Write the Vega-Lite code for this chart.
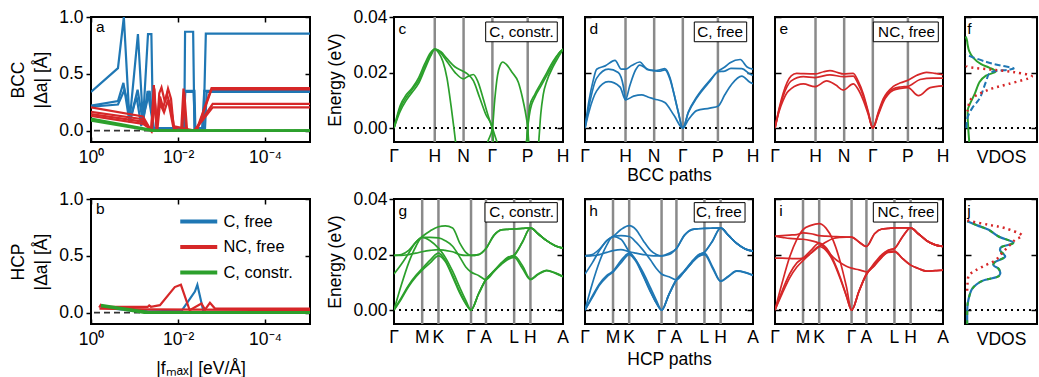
{
"$schema":"https://vega.github.io/schema/vega-lite/v6.json",
"background":"white",
"padding":{"left":8,"top":7,"right":0,"bottom":0},
"bounds":"flush",
"columns":6,
"spacing":{"row":57,"column":22},
"resolve":{"scale":{"color":"independent"}},
"config":{
 "font":"Liberation Sans",
 "view":{"stroke":"black","strokeWidth":2},
 "axis":{"grid":false,"domain":false,"labelFont":"Liberation Sans","titleFont":"Liberation Sans","labelFontSize":17.5,"titleFontSize":17.5,"labelColor":"black","titleColor":"black","tickColor":"black","tickWidth":1.5,"titleFontWeight":"normal","labelFlush":false,"labelOverlap":false},
 "text":{"font":"Liberation Sans","color":"black"}
},
"datasets":{
"bcc":[{"k":0,"n":"Γ"},{"k":1,"n":"H"},{"k":1.707,"n":"N"},{"k":2.414,"n":"Γ"},{"k":3.28,"n":"P"},{"k":4.146,"n":"H"}],
"hcp":[{"k":0,"n":"Γ"},{"k":0.577,"n":"M"},{"k":0.91,"n":"K"},{"k":1.577,"n":"Γ"},{"k":1.883,"n":"A"},{"k":2.46,"n":"L"},{"k":2.793,"n":"H"},{"k":3.46,"n":"A"}],
"conv":[
{"p":"a","s":"C, free","l":"b1","f":1,"d":0.34},{"p":"a","s":"C, free","l":"b1","f":0.24,"d":0.55},{"p":"a","s":"C, free","l":"b1","f":0.176,"d":1.0},{"p":"a","s":"C, free","l":"b1","f":0.13,"d":0.08},{"p":"a","s":"C, free","l":"b1","f":0.0835,"d":0.85},{"p":"a","s":"C, free","l":"b1","f":0.064,"d":0.08},{"p":"a","s":"C, free","l":"b1","f":0.049,"d":0.85},{"p":"a","s":"C, free","l":"b1","f":0.041,"d":0.85},{"p":"a","s":"C, free","l":"b1","f":0.0376,"d":0.02},{"p":"a","s":"C, free","l":"b1","f":0.0072,"d":0.02},{"p":"a","s":"C, free","l":"b1","f":0.0069,"d":0.87},{"p":"a","s":"C, free","l":"b1","f":0.0045,"d":0.87},{"p":"a","s":"C, free","l":"b1","f":0.0042,"d":0.02},{"p":"a","s":"C, free","l":"b1","f":0.0026,"d":0.02},{"p":"a","s":"C, free","l":"b1","f":0.0023,"d":0.853},{"p":"a","s":"C, free","l":"b1","f":0.0000093,"d":0.853},
{"p":"a","s":"C, free","l":"b2","f":1,"d":0.22},{"p":"a","s":"C, free","l":"b2","f":0.24,"d":0.26},{"p":"a","s":"C, free","l":"b2","f":0.18,"d":0.42},{"p":"a","s":"C, free","l":"b2","f":0.13,"d":0.07},{"p":"a","s":"C, free","l":"b2","f":0.085,"d":0.36},{"p":"a","s":"C, free","l":"b2","f":0.064,"d":0.07},{"p":"a","s":"C, free","l":"b2","f":0.05,"d":0.35},{"p":"a","s":"C, free","l":"b2","f":0.04,"d":0.12},{"p":"a","s":"C, free","l":"b2","f":0.037,"d":0.02},{"p":"a","s":"C, free","l":"b2","f":0.0075,"d":0.02},{"p":"a","s":"C, free","l":"b2","f":0.007,"d":0.35},{"p":"a","s":"C, free","l":"b2","f":0.0042,"d":0.35},{"p":"a","s":"C, free","l":"b2","f":0.004,"d":0.02},{"p":"a","s":"C, free","l":"b2","f":0.0028,"d":0.02},{"p":"a","s":"C, free","l":"b2","f":0.0025,"d":0.35},{"p":"a","s":"C, free","l":"b2","f":0.0000093,"d":0.35},
{"p":"a","s":"C, free","l":"b3","f":1,"d":0.21},{"p":"a","s":"C, free","l":"b3","f":0.24,"d":0.23},{"p":"a","s":"C, free","l":"b3","f":0.17,"d":0.36},{"p":"a","s":"C, free","l":"b3","f":0.12,"d":0.12},{"p":"a","s":"C, free","l":"b3","f":0.09,"d":0.3},{"p":"a","s":"C, free","l":"b3","f":0.07,"d":0.04},{"p":"a","s":"C, free","l":"b3","f":0.045,"d":0.35},{"p":"a","s":"C, free","l":"b3","f":0.036,"d":0.02},{"p":"a","s":"C, free","l":"b3","f":0.0075,"d":0.02},{"p":"a","s":"C, free","l":"b3","f":0.0068,"d":0.34},{"p":"a","s":"C, free","l":"b3","f":0.0044,"d":0.34},{"p":"a","s":"C, free","l":"b3","f":0.0041,"d":0.02},{"p":"a","s":"C, free","l":"b3","f":0.0024,"d":0.02},{"p":"a","s":"C, free","l":"b3","f":0.0022,"d":0.34},{"p":"a","s":"C, free","l":"b3","f":0.0000093,"d":0.34},
{"p":"a","s":"NC, free","l":"r1","f":1,"d":0.205},{"p":"a","s":"NC, free","l":"r1","f":0.064,"d":0.125},{"p":"a","s":"NC, free","l":"r1","f":0.046,"d":0.03},{"p":"a","s":"NC, free","l":"r1","f":0.041,"d":0},{"p":"a","s":"NC, free","l":"r1","f":0.036,"d":0.4},{"p":"a","s":"NC, free","l":"r1","f":0.031,"d":0},{"p":"a","s":"NC, free","l":"r1","f":0.027,"d":0.33},{"p":"a","s":"NC, free","l":"r1","f":0.024,"d":0.38},{"p":"a","s":"NC, free","l":"r1","f":0.02,"d":0.25},{"p":"a","s":"NC, free","l":"r1","f":0.017,"d":0.37},{"p":"a","s":"NC, free","l":"r1","f":0.0145,"d":0.28},{"p":"a","s":"NC, free","l":"r1","f":0.0125,"d":0.02},{"p":"a","s":"NC, free","l":"r1","f":0.0085,"d":0},{"p":"a","s":"NC, free","l":"r1","f":0.0075,"d":0.37},{"p":"a","s":"NC, free","l":"r1","f":0.0065,"d":0},{"p":"a","s":"NC, free","l":"r1","f":0.0038,"d":0},{"p":"a","s":"NC, free","l":"r1","f":0.0017,"d":0.375},{"p":"a","s":"NC, free","l":"r1","f":0.0000093,"d":0.375},
{"p":"a","s":"NC, free","l":"r2","f":1,"d":0.165},{"p":"a","s":"NC, free","l":"r2","f":0.064,"d":0.1},{"p":"a","s":"NC, free","l":"r2","f":0.042,"d":0},{"p":"a","s":"NC, free","l":"r2","f":0.035,"d":0.37},{"p":"a","s":"NC, free","l":"r2","f":0.031,"d":0.02},{"p":"a","s":"NC, free","l":"r2","f":0.026,"d":0.3},{"p":"a","s":"NC, free","l":"r2","f":0.022,"d":0.2},{"p":"a","s":"NC, free","l":"r2","f":0.018,"d":0.32},{"p":"a","s":"NC, free","l":"r2","f":0.0145,"d":0.2},{"p":"a","s":"NC, free","l":"r2","f":0.012,"d":0},{"p":"a","s":"NC, free","l":"r2","f":0.008,"d":0},{"p":"a","s":"NC, free","l":"r2","f":0.0072,"d":0.34},{"p":"a","s":"NC, free","l":"r2","f":0.0062,"d":0},{"p":"a","s":"NC, free","l":"r2","f":0.0037,"d":0},{"p":"a","s":"NC, free","l":"r2","f":0.0017,"d":0.362},{"p":"a","s":"NC, free","l":"r2","f":0.0000093,"d":0.362},
{"p":"a","s":"NC, free","l":"r3","f":1,"d":0.145},{"p":"a","s":"NC, free","l":"r3","f":0.064,"d":0.08},{"p":"a","s":"NC, free","l":"r3","f":0.04,"d":0},{"p":"a","s":"NC, free","l":"r3","f":0.034,"d":0.25},{"p":"a","s":"NC, free","l":"r3","f":0.03,"d":0},{"p":"a","s":"NC, free","l":"r3","f":0.026,"d":0.24},{"p":"a","s":"NC, free","l":"r3","f":0.021,"d":0.16},{"p":"a","s":"NC, free","l":"r3","f":0.017,"d":0.27},{"p":"a","s":"NC, free","l":"r3","f":0.013,"d":0.04},{"p":"a","s":"NC, free","l":"r3","f":0.0042,"d":0},{"p":"a","s":"NC, free","l":"r3","f":0.0016,"d":0.235},{"p":"a","s":"NC, free","l":"r3","f":0.0000093,"d":0.235},
{"p":"a","s":"NC, free","l":"r4","f":1,"d":0.13},{"p":"a","s":"NC, free","l":"r4","f":0.064,"d":0.06},{"p":"a","s":"NC, free","l":"r4","f":0.038,"d":0},{"p":"a","s":"NC, free","l":"r4","f":0.0042,"d":0},{"p":"a","s":"NC, free","l":"r4","f":0.0016,"d":0.205},{"p":"a","s":"NC, free","l":"r4","f":0.0000093,"d":0.205},
{"p":"a","s":"C, constr.","l":"g1","f":1,"d":0.105},{"p":"a","s":"C, constr.","l":"g1","f":0.035,"d":0},{"p":"a","s":"C, constr.","l":"g1","f":0.0000093,"d":0},
{"p":"a","s":"C, constr.","l":"g2","f":1,"d":0.09},{"p":"a","s":"C, constr.","l":"g2","f":0.04,"d":0},{"p":"a","s":"C, constr.","l":"g2","f":0.0000093,"d":0},
{"p":"b","s":"C, free","l":"c1","f":0.6,"d":0.05},{"p":"b","s":"C, free","l":"c1","f":0.05,"d":0.012},{"p":"b","s":"C, free","l":"c1","f":0.0083,"d":0.015},{"p":"b","s":"C, free","l":"c1","f":0.0041,"d":0.185},{"p":"b","s":"C, free","l":"c1","f":0.0036,"d":0.245},{"p":"b","s":"C, free","l":"c1","f":0.0026,"d":0.006},{"p":"b","s":"C, free","l":"c1","f":0.0000093,"d":0.008},
{"p":"b","s":"C, free","l":"c2","f":0.6,"d":0.045},{"p":"b","s":"C, free","l":"c2","f":0.05,"d":0.005},{"p":"b","s":"C, free","l":"c2","f":0.0000093,"d":0.005},
{"p":"b","s":"NC, free","l":"n1","f":0.65,"d":0.045},{"p":"b","s":"NC, free","l":"n1","f":0.6,"d":0.066},{"p":"b","s":"NC, free","l":"n1","f":0.55,"d":0.05},{"p":"b","s":"NC, free","l":"n1","f":0.05,"d":0.05},{"p":"b","s":"NC, free","l":"n1","f":0.046,"d":0.064},{"p":"b","s":"NC, free","l":"n1","f":0.042,"d":0.052},{"p":"b","s":"NC, free","l":"n1","f":0.026,"d":0.066},{"p":"b","s":"NC, free","l":"n1","f":0.0119,"d":0.225},{"p":"b","s":"NC, free","l":"n1","f":0.0086,"d":0.245},{"p":"b","s":"NC, free","l":"n1","f":0.0054,"d":0.021},{"p":"b","s":"NC, free","l":"n1","f":0.0029,"d":0.081},{"p":"b","s":"NC, free","l":"n1","f":0.0024,"d":0.027},{"p":"b","s":"NC, free","l":"n1","f":0.00185,"d":0.087},{"p":"b","s":"NC, free","l":"n1","f":0.00142,"d":0.036},{"p":"b","s":"NC, free","l":"n1","f":0.0000093,"d":0.036},
{"p":"b","s":"NC, free","l":"n2","f":0.64,"d":0.035},{"p":"b","s":"NC, free","l":"n2","f":0.05,"d":0.028},{"p":"b","s":"NC, free","l":"n2","f":0.0000093,"d":0.022},
{"p":"b","s":"C, constr.","l":"s1","f":0.59,"d":0.066},{"p":"b","s":"C, constr.","l":"s1","f":0.3,"d":0.05},{"p":"b","s":"C, constr.","l":"s1","f":0.05,"d":0.006},{"p":"b","s":"C, constr.","l":"s1","f":0.0000093,"d":0.003},
{"p":"b","s":"C, constr.","l":"s2","f":0.59,"d":0.058},{"p":"b","s":"C, constr.","l":"s2","f":0.06,"d":0},{"p":"b","s":"C, constr.","l":"s2","f":0.0000093,"d":0}
],
"disp":[
{"p":"c","b":1,"k":0,"E":0},{"p":"c","b":1,"k":0.15,"E":0.006},{"p":"c","b":1,"k":0.3,"E":0.01},{"p":"c","b":1,"k":0.45,"E":0.013},{"p":"c","b":1,"k":0.6,"E":0.016},{"p":"c","b":1,"k":0.75,"E":0.021},{"p":"c","b":1,"k":0.9,"E":0.026},{"p":"c","b":1,"k":1,"E":0.0284},{"p":"c","b":1,"k":1.1,"E":0.027},{"p":"c","b":1,"k":1.2,"E":0.024},{"p":"c","b":1,"k":1.3,"E":0.018},{"p":"c","b":1,"k":1.4,"E":0.008},{"p":"c","b":1,"k":1.47,"E":0},{"p":"c","b":1,"k":1.52,"E":-0.006},{"p":"c","b":1,"k":1.6,"E":-0.012},{"p":"c","b":1,"k":2.2,"E":-0.012},{"p":"c","b":1,"k":2.3,"E":-0.005},{"p":"c","b":1,"k":2.414,"E":0},{"p":"c","b":1,"k":2.47,"E":0.01},{"p":"c","b":1,"k":2.54,"E":0.019},{"p":"c","b":1,"k":2.6,"E":0.0225},{"p":"c","b":1,"k":2.67,"E":0.0238},{"p":"c","b":1,"k":2.75,"E":0.023},{"p":"c","b":1,"k":2.9,"E":0.02},{"p":"c","b":1,"k":3.05,"E":0.0165},{"p":"c","b":1,"k":3.15,"E":0.011},{"p":"c","b":1,"k":3.22,"E":0.006},{"p":"c","b":1,"k":3.28,"E":0},{"p":"c","b":1,"k":3.31,"E":-0.006},{"p":"c","b":1,"k":3.35,"E":-0.012},{"p":"c","b":1,"k":3.5,"E":-0.012},{"p":"c","b":1,"k":3.55,"E":-0.005},{"p":"c","b":1,"k":3.6,"E":0.005},{"p":"c","b":1,"k":3.66,"E":0.012},{"p":"c","b":1,"k":3.75,"E":0.017},{"p":"c","b":1,"k":3.9,"E":0.022},{"p":"c","b":1,"k":4.05,"E":0.026},{"p":"c","b":1,"k":4.146,"E":0.0284},
{"p":"c","b":2,"k":0,"E":0},{"p":"c","b":2,"k":0.15,"E":0.008},{"p":"c","b":2,"k":0.3,"E":0.012},{"p":"c","b":2,"k":0.45,"E":0.0145},{"p":"c","b":2,"k":0.6,"E":0.018},{"p":"c","b":2,"k":0.75,"E":0.023},{"p":"c","b":2,"k":0.9,"E":0.0272},{"p":"c","b":2,"k":1,"E":0.0284},{"p":"c","b":2,"k":1.15,"E":0.027},{"p":"c","b":2,"k":1.3,"E":0.024},{"p":"c","b":2,"k":1.5,"E":0.02},{"p":"c","b":2,"k":1.707,"E":0.0177},{"p":"c","b":2,"k":1.8,"E":0.0185},{"p":"c","b":2,"k":1.946,"E":0.0193},{"p":"c","b":2,"k":2.05,"E":0.017},{"p":"c","b":2,"k":2.2,"E":0.01},{"p":"c","b":2,"k":2.32,"E":0.004},{"p":"c","b":2,"k":2.414,"E":0},{"p":"c","b":2,"k":2.55,"E":-0.006},{"p":"c","b":2,"k":2.7,"E":-0.012},{"p":"c","b":2,"k":3.2,"E":-0.012},{"p":"c","b":2,"k":3.26,"E":-0.004},{"p":"c","b":2,"k":3.28,"E":0},{"p":"c","b":2,"k":3.35,"E":0.007},{"p":"c","b":2,"k":3.45,"E":0.011},{"p":"c","b":2,"k":3.6,"E":0.015},{"p":"c","b":2,"k":3.75,"E":0.019},{"p":"c","b":2,"k":3.9,"E":0.023},{"p":"c","b":2,"k":4.05,"E":0.027},{"p":"c","b":2,"k":4.146,"E":0.0284},
{"p":"c","b":3,"k":0,"E":0},{"p":"c","b":3,"k":0.15,"E":0.007},{"p":"c","b":3,"k":0.3,"E":0.011},{"p":"c","b":3,"k":0.45,"E":0.014},{"p":"c","b":3,"k":0.6,"E":0.017},{"p":"c","b":3,"k":0.75,"E":0.022},{"p":"c","b":3,"k":0.9,"E":0.0265},{"p":"c","b":3,"k":1,"E":0.0284},{"p":"c","b":3,"k":1.15,"E":0.0275},{"p":"c","b":3,"k":1.3,"E":0.025},{"p":"c","b":3,"k":1.5,"E":0.022},{"p":"c","b":3,"k":1.707,"E":0.0204},{"p":"c","b":3,"k":1.8,"E":0.0195},{"p":"c","b":3,"k":1.95,"E":0.017},{"p":"c","b":3,"k":2.1,"E":0.011},{"p":"c","b":3,"k":2.25,"E":0.005},{"p":"c","b":3,"k":2.414,"E":0},{"p":"c","b":3,"k":2.44,"E":-0.006},{"p":"c","b":3,"k":2.48,"E":-0.012},{"p":"c","b":3,"k":3.2,"E":-0.012},{"p":"c","b":3,"k":3.25,"E":-0.005},{"p":"c","b":3,"k":3.28,"E":0},{"p":"c","b":3,"k":3.33,"E":0.008},{"p":"c","b":3,"k":3.45,"E":0.012},{"p":"c","b":3,"k":3.6,"E":0.016},{"p":"c","b":3,"k":3.75,"E":0.02},{"p":"c","b":3,"k":3.9,"E":0.024},{"p":"c","b":3,"k":4.05,"E":0.027},{"p":"c","b":3,"k":4.146,"E":0.0284},
{"p":"d","b":1,"k":0,"E":0},{"p":"d","b":1,"k":0.1,"E":0.01},{"p":"d","b":1,"k":0.2,"E":0.017},{"p":"d","b":1,"k":0.288,"E":0.0212},{"p":"d","b":1,"k":0.5,"E":0.0224},{"p":"d","b":1,"k":0.74,"E":0.0244},{"p":"d","b":1,"k":0.9,"E":0.0212},{"p":"d","b":1,"k":1,"E":0.0212},{"p":"d","b":1,"k":1.15,"E":0.0225},{"p":"d","b":1,"k":1.35,"E":0.0238},{"p":"d","b":1,"k":1.55,"E":0.021},{"p":"d","b":1,"k":1.707,"E":0.0207},{"p":"d","b":1,"k":1.85,"E":0.021},{"p":"d","b":1,"k":1.97,"E":0.0214},{"p":"d","b":1,"k":2.1,"E":0.018},{"p":"d","b":1,"k":2.18,"E":0.0134},{"p":"d","b":1,"k":2.3,"E":0.006},{"p":"d","b":1,"k":2.414,"E":0},{"p":"d","b":1,"k":2.55,"E":0.0058},{"p":"d","b":1,"k":2.756,"E":0.0112},{"p":"d","b":1,"k":3.08,"E":0.0172},{"p":"d","b":1,"k":3.29,"E":0.0205},{"p":"d","b":1,"k":3.45,"E":0.022},{"p":"d","b":1,"k":3.58,"E":0.0235},{"p":"d","b":1,"k":3.83,"E":0.0247},{"p":"d","b":1,"k":4,"E":0.022},{"p":"d","b":1,"k":4.146,"E":0.0212},
{"p":"d","b":2,"k":0,"E":0},{"p":"d","b":2,"k":0.1,"E":0.008},{"p":"d","b":2,"k":0.288,"E":0.018},{"p":"d","b":2,"k":0.576,"E":0.0212},{"p":"d","b":2,"k":0.82,"E":0.02},{"p":"d","b":2,"k":0.95,"E":0.0148},{"p":"d","b":2,"k":1,"E":0.0102},{"p":"d","b":2,"k":1.1,"E":0.015},{"p":"d","b":2,"k":1.25,"E":0.021},{"p":"d","b":2,"k":1.35,"E":0.0227},{"p":"d","b":2,"k":1.55,"E":0.0212},{"p":"d","b":2,"k":1.707,"E":0.0207},{"p":"d","b":2,"k":1.85,"E":0.0205},{"p":"d","b":2,"k":1.97,"E":0.021},{"p":"d","b":2,"k":2.1,"E":0.0175},{"p":"d","b":2,"k":2.2,"E":0.012},{"p":"d","b":2,"k":2.3,"E":0.0058},{"p":"d","b":2,"k":2.414,"E":0},{"p":"d","b":2,"k":2.55,"E":0.0056},{"p":"d","b":2,"k":2.756,"E":0.0108},{"p":"d","b":2,"k":3.08,"E":0.0168},{"p":"d","b":2,"k":3.29,"E":0.0203},{"p":"d","b":2,"k":3.45,"E":0.0205},{"p":"d","b":2,"k":3.6,"E":0.0215},{"p":"d","b":2,"k":3.87,"E":0.0214},{"p":"d","b":2,"k":4.07,"E":0.0195},{"p":"d","b":2,"k":4.146,"E":0.019},
{"p":"d","b":3,"k":0,"E":0},{"p":"d","b":3,"k":0.1,"E":0.006},{"p":"d","b":3,"k":0.288,"E":0.0134},{"p":"d","b":3,"k":0.576,"E":0.0167},{"p":"d","b":3,"k":0.864,"E":0.0148},{"p":"d","b":3,"k":1,"E":0.0102},{"p":"d","b":3,"k":1.2,"E":0.0115},{"p":"d","b":3,"k":1.4,"E":0.012},{"p":"d","b":3,"k":1.55,"E":0.0112},{"p":"d","b":3,"k":1.707,"E":0.0105},{"p":"d","b":3,"k":1.97,"E":0.0092},{"p":"d","b":3,"k":2.2,"E":0.0045},{"p":"d","b":3,"k":2.414,"E":0},{"p":"d","b":3,"k":2.55,"E":0.003},{"p":"d","b":3,"k":2.756,"E":0.0063},{"p":"d","b":3,"k":3.08,"E":0.0072},{"p":"d","b":3,"k":3.29,"E":0.008},{"p":"d","b":3,"k":3.45,"E":0.012},{"p":"d","b":3,"k":3.62,"E":0.0158},{"p":"d","b":3,"k":3.87,"E":0.0187},{"p":"d","b":3,"k":4.07,"E":0.0165},{"p":"d","b":3,"k":4.146,"E":0.016},
{"p":"e","b":1,"k":0,"E":0},{"p":"e","b":1,"k":0.1,"E":0.007},{"p":"e","b":1,"k":0.2,"E":0.0125},{"p":"e","b":1,"k":0.3,"E":0.0165},{"p":"e","b":1,"k":0.4,"E":0.0188},{"p":"e","b":1,"k":0.535,"E":0.0197},{"p":"e","b":1,"k":0.7,"E":0.0196},{"p":"e","b":1,"k":0.987,"E":0.0195},{"p":"e","b":1,"k":1.2,"E":0.0203},{"p":"e","b":1,"k":1.357,"E":0.0207},{"p":"e","b":1,"k":1.55,"E":0.02},{"p":"e","b":1,"k":1.686,"E":0.0195},{"p":"e","b":1,"k":1.93,"E":0.0197},{"p":"e","b":1,"k":2.05,"E":0.017},{"p":"e","b":1,"k":2.18,"E":0.0123},{"p":"e","b":1,"k":2.3,"E":0.006},{"p":"e","b":1,"k":2.414,"E":0},{"p":"e","b":1,"k":2.55,"E":0.0058},{"p":"e","b":1,"k":2.67,"E":0.0105},{"p":"e","b":1,"k":2.92,"E":0.015},{"p":"e","b":1,"k":3.1,"E":0.0163},{"p":"e","b":1,"k":3.28,"E":0.0172},{"p":"e","b":1,"k":3.5,"E":0.019},{"p":"e","b":1,"k":3.74,"E":0.0201},{"p":"e","b":1,"k":3.95,"E":0.0197},{"p":"e","b":1,"k":4.146,"E":0.0192},
{"p":"e","b":2,"k":0,"E":0},{"p":"e","b":2,"k":0.1,"E":0.0065},{"p":"e","b":2,"k":0.2,"E":0.0115},{"p":"e","b":2,"k":0.3,"E":0.015},{"p":"e","b":2,"k":0.4,"E":0.017},{"p":"e","b":2,"k":0.7,"E":0.0185},{"p":"e","b":2,"k":0.987,"E":0.0182},{"p":"e","b":2,"k":1.357,"E":0.0192},{"p":"e","b":2,"k":1.686,"E":0.0185},{"p":"e","b":2,"k":1.93,"E":0.0187},{"p":"e","b":2,"k":2.05,"E":0.016},{"p":"e","b":2,"k":2.18,"E":0.0115},{"p":"e","b":2,"k":2.3,"E":0.0055},{"p":"e","b":2,"k":2.414,"E":0},{"p":"e","b":2,"k":2.55,"E":0.0053},{"p":"e","b":2,"k":2.67,"E":0.0098},{"p":"e","b":2,"k":2.92,"E":0.0142},{"p":"e","b":2,"k":3.1,"E":0.0148},{"p":"e","b":2,"k":3.28,"E":0.015},{"p":"e","b":2,"k":3.58,"E":0.0175},{"p":"e","b":2,"k":3.9,"E":0.018},{"p":"e","b":2,"k":4.146,"E":0.018},
{"p":"e","b":3,"k":0,"E":0},{"p":"e","b":3,"k":0.1,"E":0.006},{"p":"e","b":3,"k":0.2,"E":0.01},{"p":"e","b":3,"k":0.3,"E":0.0128},{"p":"e","b":3,"k":0.4,"E":0.0142},{"p":"e","b":3,"k":0.7,"E":0.0159},{"p":"e","b":3,"k":0.987,"E":0.0149},{"p":"e","b":3,"k":1.275,"E":0.017},{"p":"e","b":3,"k":1.5,"E":0.0155},{"p":"e","b":3,"k":1.686,"E":0.0137},{"p":"e","b":3,"k":1.93,"E":0.0159},{"p":"e","b":3,"k":2.05,"E":0.014},{"p":"e","b":3,"k":2.18,"E":0.01},{"p":"e","b":3,"k":2.3,"E":0.005},{"p":"e","b":3,"k":2.414,"E":0},{"p":"e","b":3,"k":2.55,"E":0.0048},{"p":"e","b":3,"k":2.67,"E":0.0093},{"p":"e","b":3,"k":2.92,"E":0.0136},{"p":"e","b":3,"k":3.1,"E":0.0143},{"p":"e","b":3,"k":3.28,"E":0.0146},{"p":"e","b":3,"k":3.54,"E":0.0117},{"p":"e","b":3,"k":3.83,"E":0.0146},{"p":"e","b":3,"k":4.146,"E":0.0152},
{"p":"g","b":1,"k":0,"E":0},{"p":"g","b":1,"k":0.15,"E":0.0045},{"p":"g","b":1,"k":0.3,"E":0.009},{"p":"g","b":1,"k":0.45,"E":0.0125},{"p":"g","b":1,"k":0.577,"E":0.015},{"p":"g","b":1,"k":0.74,"E":0.018},{"p":"g","b":1,"k":0.91,"E":0.0205},{"p":"g","b":1,"k":1.05,"E":0.018},{"p":"g","b":1,"k":1.2,"E":0.0125},{"p":"g","b":1,"k":1.35,"E":0.0065},{"p":"g","b":1,"k":1.47,"E":0.0025},{"p":"g","b":1,"k":1.577,"E":0},{"p":"g","b":1,"k":1.73,"E":0.0058},{"p":"g","b":1,"k":1.883,"E":0.011},{"p":"g","b":1,"k":2.05,"E":0.014},{"p":"g","b":1,"k":2.2,"E":0.0165},{"p":"g","b":1,"k":2.33,"E":0.0182},{"p":"g","b":1,"k":2.46,"E":0.019},{"p":"g","b":1,"k":2.63,"E":0.015},{"p":"g","b":1,"k":2.793,"E":0.011},{"p":"g","b":1,"k":2.95,"E":0.0128},{"p":"g","b":1,"k":3.125,"E":0.0142},{"p":"g","b":1,"k":3.3,"E":0.0133},{"p":"g","b":1,"k":3.46,"E":0.012},
{"p":"g","b":2,"k":0,"E":0},{"p":"g","b":2,"k":0.15,"E":0.004},{"p":"g","b":2,"k":0.3,"E":0.0085},{"p":"g","b":2,"k":0.45,"E":0.012},{"p":"g","b":2,"k":0.577,"E":0.0144},{"p":"g","b":2,"k":0.74,"E":0.017},{"p":"g","b":2,"k":0.91,"E":0.0195},{"p":"g","b":2,"k":1.05,"E":0.0175},{"p":"g","b":2,"k":1.2,"E":0.012},{"p":"g","b":2,"k":1.35,"E":0.006},{"p":"g","b":2,"k":1.47,"E":0.0022},{"p":"g","b":2,"k":1.577,"E":0},{"p":"g","b":2,"k":1.73,"E":0.0058},{"p":"g","b":2,"k":1.883,"E":0.011},{"p":"g","b":2,"k":2.05,"E":0.0142},{"p":"g","b":2,"k":2.2,"E":0.017},{"p":"g","b":2,"k":2.33,"E":0.019},{"p":"g","b":2,"k":2.46,"E":0.0199},{"p":"g","b":2,"k":2.63,"E":0.0245},{"p":"g","b":2,"k":2.793,"E":0.0296},{"p":"g","b":2,"k":2.95,"E":0.0275},{"p":"g","b":2,"k":3.125,"E":0.025},{"p":"g","b":2,"k":3.3,"E":0.0232},{"p":"g","b":2,"k":3.46,"E":0.0223},
{"p":"g","b":3,"k":0,"E":0},{"p":"g","b":3,"k":0.15,"E":0.009},{"p":"g","b":3,"k":0.3,"E":0.017},{"p":"g","b":3,"k":0.45,"E":0.023},{"p":"g","b":3,"k":0.577,"E":0.0262},{"p":"g","b":3,"k":0.74,"E":0.025},{"p":"g","b":3,"k":0.91,"E":0.0223},{"p":"g","b":3,"k":1.05,"E":0.019},{"p":"g","b":3,"k":1.2,"E":0.014},{"p":"g","b":3,"k":1.35,"E":0.008},{"p":"g","b":3,"k":1.47,"E":0.0035},{"p":"g","b":3,"k":1.577,"E":0},{"p":"g","b":3,"k":1.73,"E":0.0058},{"p":"g","b":3,"k":1.883,"E":0.011},{"p":"g","b":3,"k":2.05,"E":0.014},{"p":"g","b":3,"k":2.2,"E":0.0168},{"p":"g","b":3,"k":2.33,"E":0.0186},{"p":"g","b":3,"k":2.46,"E":0.0195},{"p":"g","b":3,"k":2.63,"E":0.016},{"p":"g","b":3,"k":2.793,"E":0.0112},{"p":"g","b":3,"k":2.95,"E":0.013},{"p":"g","b":3,"k":3.125,"E":0.0143},{"p":"g","b":3,"k":3.3,"E":0.0134},{"p":"g","b":3,"k":3.46,"E":0.0121},
{"p":"g","b":4,"k":0,"E":0.013},{"p":"g","b":4,"k":0.15,"E":0.0165},{"p":"g","b":4,"k":0.3,"E":0.0205},{"p":"g","b":4,"k":0.45,"E":0.0245},{"p":"g","b":4,"k":0.577,"E":0.0265},{"p":"g","b":4,"k":0.74,"E":0.0285},{"p":"g","b":4,"k":0.91,"E":0.03},{"p":"g","b":4,"k":1.05,"E":0.0303},{"p":"g","b":4,"k":1.2,"E":0.0296},{"p":"g","b":4,"k":1.35,"E":0.024},{"p":"g","b":4,"k":1.47,"E":0.0208},{"p":"g","b":4,"k":1.577,"E":0.0197},{"p":"g","b":4,"k":1.73,"E":0.02},{"p":"g","b":4,"k":1.883,"E":0.0222},{"p":"g","b":4,"k":2.05,"E":0.027},{"p":"g","b":4,"k":2.2,"E":0.0289},{"p":"g","b":4,"k":2.33,"E":0.0291},{"p":"g","b":4,"k":2.46,"E":0.0292},{"p":"g","b":4,"k":2.63,"E":0.0294},{"p":"g","b":4,"k":2.793,"E":0.0296},{"p":"g","b":4,"k":2.95,"E":0.0275},{"p":"g","b":4,"k":3.125,"E":0.025},{"p":"g","b":4,"k":3.3,"E":0.0232},{"p":"g","b":4,"k":3.46,"E":0.0223},
{"p":"g","b":5,"k":0,"E":0.0197},{"p":"g","b":5,"k":0.15,"E":0.02},{"p":"g","b":5,"k":0.3,"E":0.0215},{"p":"g","b":5,"k":0.45,"E":0.0245},{"p":"g","b":5,"k":0.577,"E":0.0262},{"p":"g","b":5,"k":0.74,"E":0.0262},{"p":"g","b":5,"k":0.91,"E":0.026},{"p":"g","b":5,"k":1.05,"E":0.025},{"p":"g","b":5,"k":1.2,"E":0.023},{"p":"g","b":5,"k":1.35,"E":0.019},{"p":"g","b":5,"k":1.47,"E":0.0155},{"p":"g","b":5,"k":1.577,"E":0.0137},{"p":"g","b":5,"k":1.73,"E":0.0125},{"p":"g","b":5,"k":1.883,"E":0.011},{"p":"g","b":5,"k":2.05,"E":0.014},{"p":"g","b":5,"k":2.2,"E":0.017},{"p":"g","b":5,"k":2.33,"E":0.0188},{"p":"g","b":5,"k":2.46,"E":0.0197},{"p":"g","b":5,"k":2.63,"E":0.0245},{"p":"g","b":5,"k":2.793,"E":0.0296},{"p":"g","b":5,"k":2.95,"E":0.0275},{"p":"g","b":5,"k":3.125,"E":0.025},{"p":"g","b":5,"k":3.3,"E":0.0232},{"p":"g","b":5,"k":3.46,"E":0.0223},
{"p":"g","b":6,"k":0,"E":0.0197},{"p":"g","b":6,"k":0.15,"E":0.0197},{"p":"g","b":6,"k":0.3,"E":0.02},{"p":"g","b":6,"k":0.45,"E":0.0205},{"p":"g","b":6,"k":0.577,"E":0.021},{"p":"g","b":6,"k":0.74,"E":0.0215},{"p":"g","b":6,"k":0.91,"E":0.0218},{"p":"g","b":6,"k":1.05,"E":0.0215},{"p":"g","b":6,"k":1.2,"E":0.021},{"p":"g","b":6,"k":1.35,"E":0.02},{"p":"g","b":6,"k":1.47,"E":0.0197},{"p":"g","b":6,"k":1.577,"E":0.0197},{"p":"g","b":6,"k":1.73,"E":0.02},{"p":"g","b":6,"k":1.883,"E":0.0222},{"p":"g","b":6,"k":2.05,"E":0.027},{"p":"g","b":6,"k":2.2,"E":0.0289},{"p":"g","b":6,"k":2.33,"E":0.0291},{"p":"g","b":6,"k":2.46,"E":0.0292},{"p":"g","b":6,"k":2.63,"E":0.0294},{"p":"g","b":6,"k":2.793,"E":0.0296},{"p":"g","b":6,"k":2.95,"E":0.0275},{"p":"g","b":6,"k":3.125,"E":0.025},{"p":"g","b":6,"k":3.3,"E":0.0232},{"p":"g","b":6,"k":3.46,"E":0.0223},
{"p":"h","b":1,"k":0,"E":0},{"p":"h","b":1,"k":0.15,"E":0.0045},{"p":"h","b":1,"k":0.3,"E":0.009},{"p":"h","b":1,"k":0.45,"E":0.012},{"p":"h","b":1,"k":0.577,"E":0.0137},{"p":"h","b":1,"k":0.74,"E":0.017},{"p":"h","b":1,"k":0.91,"E":0.02},{"p":"h","b":1,"k":1.05,"E":0.0175},{"p":"h","b":1,"k":1.2,"E":0.0122},{"p":"h","b":1,"k":1.35,"E":0.0065},{"p":"h","b":1,"k":1.47,"E":0.0025},{"p":"h","b":1,"k":1.577,"E":0},{"p":"h","b":1,"k":1.73,"E":0.0057},{"p":"h","b":1,"k":1.883,"E":0.0109},{"p":"h","b":1,"k":2.05,"E":0.014},{"p":"h","b":1,"k":2.2,"E":0.017},{"p":"h","b":1,"k":2.33,"E":0.0192},{"p":"h","b":1,"k":2.46,"E":0.02},{"p":"h","b":1,"k":2.63,"E":0.015},{"p":"h","b":1,"k":2.793,"E":0.0103},{"p":"h","b":1,"k":2.95,"E":0.012},{"p":"h","b":1,"k":3.125,"E":0.014},{"p":"h","b":1,"k":3.3,"E":0.0135},{"p":"h","b":1,"k":3.46,"E":0.0125},
{"p":"h","b":2,"k":0,"E":0},{"p":"h","b":2,"k":0.15,"E":0.005},{"p":"h","b":2,"k":0.3,"E":0.0095},{"p":"h","b":2,"k":0.45,"E":0.0125},{"p":"h","b":2,"k":0.577,"E":0.014},{"p":"h","b":2,"k":0.74,"E":0.0178},{"p":"h","b":2,"k":0.91,"E":0.0205},{"p":"h","b":2,"k":1.05,"E":0.018},{"p":"h","b":2,"k":1.2,"E":0.0125},{"p":"h","b":2,"k":1.35,"E":0.0068},{"p":"h","b":2,"k":1.47,"E":0.0026},{"p":"h","b":2,"k":1.577,"E":0},{"p":"h","b":2,"k":1.73,"E":0.0057},{"p":"h","b":2,"k":1.883,"E":0.0109},{"p":"h","b":2,"k":2.05,"E":0.0142},{"p":"h","b":2,"k":2.2,"E":0.0175},{"p":"h","b":2,"k":2.33,"E":0.0198},{"p":"h","b":2,"k":2.46,"E":0.0209},{"p":"h","b":2,"k":2.63,"E":0.025},{"p":"h","b":2,"k":2.793,"E":0.0296},{"p":"h","b":2,"k":2.95,"E":0.027},{"p":"h","b":2,"k":3.125,"E":0.024},{"p":"h","b":2,"k":3.3,"E":0.022},{"p":"h","b":2,"k":3.46,"E":0.0212},
{"p":"h","b":3,"k":0,"E":0},{"p":"h","b":3,"k":0.15,"E":0.0095},{"p":"h","b":3,"k":0.3,"E":0.0175},{"p":"h","b":3,"k":0.45,"E":0.0235},{"p":"h","b":3,"k":0.577,"E":0.0265},{"p":"h","b":3,"k":0.74,"E":0.0255},{"p":"h","b":3,"k":0.91,"E":0.021},{"p":"h","b":3,"k":1.05,"E":0.018},{"p":"h","b":3,"k":1.2,"E":0.0135},{"p":"h","b":3,"k":1.35,"E":0.008},{"p":"h","b":3,"k":1.47,"E":0.0035},{"p":"h","b":3,"k":1.577,"E":0},{"p":"h","b":3,"k":1.73,"E":0.0057},{"p":"h","b":3,"k":1.883,"E":0.0109},{"p":"h","b":3,"k":2.05,"E":0.014},{"p":"h","b":3,"k":2.2,"E":0.0172},{"p":"h","b":3,"k":2.33,"E":0.0195},{"p":"h","b":3,"k":2.46,"E":0.0205},{"p":"h","b":3,"k":2.63,"E":0.0155},{"p":"h","b":3,"k":2.793,"E":0.0105},{"p":"h","b":3,"k":2.95,"E":0.0122},{"p":"h","b":3,"k":3.125,"E":0.0141},{"p":"h","b":3,"k":3.3,"E":0.0136},{"p":"h","b":3,"k":3.46,"E":0.0126},
{"p":"h","b":4,"k":0,"E":0.013},{"p":"h","b":4,"k":0.15,"E":0.017},{"p":"h","b":4,"k":0.3,"E":0.0215},{"p":"h","b":4,"k":0.45,"E":0.025},{"p":"h","b":4,"k":0.577,"E":0.0265},{"p":"h","b":4,"k":0.74,"E":0.029},{"p":"h","b":4,"k":0.91,"E":0.0304},{"p":"h","b":4,"k":1.05,"E":0.029},{"p":"h","b":4,"k":1.2,"E":0.025},{"p":"h","b":4,"k":1.35,"E":0.0215},{"p":"h","b":4,"k":1.47,"E":0.02},{"p":"h","b":4,"k":1.577,"E":0.0195},{"p":"h","b":4,"k":1.73,"E":0.0205},{"p":"h","b":4,"k":1.883,"E":0.0222},{"p":"h","b":4,"k":2.05,"E":0.027},{"p":"h","b":4,"k":2.2,"E":0.029},{"p":"h","b":4,"k":2.33,"E":0.0293},{"p":"h","b":4,"k":2.46,"E":0.0294},{"p":"h","b":4,"k":2.63,"E":0.0295},{"p":"h","b":4,"k":2.793,"E":0.0296},{"p":"h","b":4,"k":2.95,"E":0.027},{"p":"h","b":4,"k":3.125,"E":0.024},{"p":"h","b":4,"k":3.3,"E":0.022},{"p":"h","b":4,"k":3.46,"E":0.0212},
{"p":"h","b":5,"k":0,"E":0.0195},{"p":"h","b":5,"k":0.15,"E":0.02},{"p":"h","b":5,"k":0.3,"E":0.022},{"p":"h","b":5,"k":0.45,"E":0.025},{"p":"h","b":5,"k":0.577,"E":0.0265},{"p":"h","b":5,"k":0.74,"E":0.0268},{"p":"h","b":5,"k":0.91,"E":0.0265},{"p":"h","b":5,"k":1.05,"E":0.0245},{"p":"h","b":5,"k":1.2,"E":0.0215},{"p":"h","b":5,"k":1.35,"E":0.018},{"p":"h","b":5,"k":1.47,"E":0.015},{"p":"h","b":5,"k":1.577,"E":0.013},{"p":"h","b":5,"k":1.73,"E":0.012},{"p":"h","b":5,"k":1.883,"E":0.0109},{"p":"h","b":5,"k":2.05,"E":0.014},{"p":"h","b":5,"k":2.2,"E":0.0172},{"p":"h","b":5,"k":2.33,"E":0.0198},{"p":"h","b":5,"k":2.46,"E":0.0209},{"p":"h","b":5,"k":2.63,"E":0.025},{"p":"h","b":5,"k":2.793,"E":0.0296},{"p":"h","b":5,"k":2.95,"E":0.027},{"p":"h","b":5,"k":3.125,"E":0.024},{"p":"h","b":5,"k":3.3,"E":0.022},{"p":"h","b":5,"k":3.46,"E":0.0212},
{"p":"h","b":6,"k":0,"E":0.0195},{"p":"h","b":6,"k":0.15,"E":0.0196},{"p":"h","b":6,"k":0.3,"E":0.02},{"p":"h","b":6,"k":0.45,"E":0.0208},{"p":"h","b":6,"k":0.577,"E":0.0214},{"p":"h","b":6,"k":0.74,"E":0.0218},{"p":"h","b":6,"k":0.91,"E":0.021},{"p":"h","b":6,"k":1.05,"E":0.0205},{"p":"h","b":6,"k":1.2,"E":0.02},{"p":"h","b":6,"k":1.35,"E":0.0196},{"p":"h","b":6,"k":1.47,"E":0.0195},{"p":"h","b":6,"k":1.577,"E":0.0195},{"p":"h","b":6,"k":1.73,"E":0.02},{"p":"h","b":6,"k":1.883,"E":0.0222},{"p":"h","b":6,"k":2.05,"E":0.027},{"p":"h","b":6,"k":2.2,"E":0.029},{"p":"h","b":6,"k":2.33,"E":0.0293},{"p":"h","b":6,"k":2.46,"E":0.0294},{"p":"h","b":6,"k":2.63,"E":0.0295},{"p":"h","b":6,"k":2.793,"E":0.0296},{"p":"h","b":6,"k":2.95,"E":0.027},{"p":"h","b":6,"k":3.125,"E":0.024},{"p":"h","b":6,"k":3.3,"E":0.022},{"p":"h","b":6,"k":3.46,"E":0.0212},
{"p":"i","b":1,"k":0,"E":0},{"p":"i","b":1,"k":0.15,"E":0.006},{"p":"i","b":1,"k":0.3,"E":0.0115},{"p":"i","b":1,"k":0.45,"E":0.0155},{"p":"i","b":1,"k":0.577,"E":0.0178},{"p":"i","b":1,"k":0.74,"E":0.0205},{"p":"i","b":1,"k":0.91,"E":0.0229},{"p":"i","b":1,"k":1.05,"E":0.0215},{"p":"i","b":1,"k":1.2,"E":0.0175},{"p":"i","b":1,"k":1.35,"E":0.011},{"p":"i","b":1,"k":1.47,"E":0.005},{"p":"i","b":1,"k":1.577,"E":0},{"p":"i","b":1,"k":1.73,"E":0.0068},{"p":"i","b":1,"k":1.883,"E":0.0129},{"p":"i","b":1,"k":2.05,"E":0.016},{"p":"i","b":1,"k":2.2,"E":0.019},{"p":"i","b":1,"k":2.33,"E":0.0208},{"p":"i","b":1,"k":2.46,"E":0.021},{"p":"i","b":1,"k":2.63,"E":0.0185},{"p":"i","b":1,"k":2.793,"E":0.0162},{"p":"i","b":1,"k":2.95,"E":0.015},{"p":"i","b":1,"k":3.125,"E":0.014},{"p":"i","b":1,"k":3.3,"E":0.0142},{"p":"i","b":1,"k":3.46,"E":0.0144},
{"p":"i","b":2,"k":0,"E":0},{"p":"i","b":2,"k":0.15,"E":0.007},{"p":"i","b":2,"k":0.3,"E":0.013},{"p":"i","b":2,"k":0.45,"E":0.017},{"p":"i","b":2,"k":0.577,"E":0.0187},{"p":"i","b":2,"k":0.74,"E":0.0215},{"p":"i","b":2,"k":0.91,"E":0.0241},{"p":"i","b":2,"k":1.05,"E":0.0225},{"p":"i","b":2,"k":1.2,"E":0.018},{"p":"i","b":2,"k":1.35,"E":0.0115},{"p":"i","b":2,"k":1.47,"E":0.0052},{"p":"i","b":2,"k":1.577,"E":0},{"p":"i","b":2,"k":1.73,"E":0.0068},{"p":"i","b":2,"k":1.883,"E":0.0129},{"p":"i","b":2,"k":2.05,"E":0.0165},{"p":"i","b":2,"k":2.2,"E":0.0195},{"p":"i","b":2,"k":2.33,"E":0.0215},{"p":"i","b":2,"k":2.46,"E":0.0222},{"p":"i","b":2,"k":2.63,"E":0.0265},{"p":"i","b":2,"k":2.793,"E":0.0296},{"p":"i","b":2,"k":2.95,"E":0.0275},{"p":"i","b":2,"k":3.125,"E":0.025},{"p":"i","b":2,"k":3.3,"E":0.0235},{"p":"i","b":2,"k":3.46,"E":0.0229},
{"p":"i","b":3,"k":0,"E":0},{"p":"i","b":3,"k":0.15,"E":0.01},{"p":"i","b":3,"k":0.3,"E":0.019},{"p":"i","b":3,"k":0.45,"E":0.0255},{"p":"i","b":3,"k":0.577,"E":0.029},{"p":"i","b":3,"k":0.74,"E":0.0305},{"p":"i","b":3,"k":0.91,"E":0.0311},{"p":"i","b":3,"k":1.05,"E":0.0295},{"p":"i","b":3,"k":1.2,"E":0.025},{"p":"i","b":3,"k":1.35,"E":0.017},{"p":"i","b":3,"k":1.47,"E":0.0085},{"p":"i","b":3,"k":1.577,"E":0},{"p":"i","b":3,"k":1.73,"E":0.0068},{"p":"i","b":3,"k":1.883,"E":0.0129},{"p":"i","b":3,"k":2.05,"E":0.0162},{"p":"i","b":3,"k":2.2,"E":0.0192},{"p":"i","b":3,"k":2.33,"E":0.021},{"p":"i","b":3,"k":2.46,"E":0.0212},{"p":"i","b":3,"k":2.63,"E":0.0185},{"p":"i","b":3,"k":2.793,"E":0.0162},{"p":"i","b":3,"k":2.95,"E":0.015},{"p":"i","b":3,"k":3.125,"E":0.014},{"p":"i","b":3,"k":3.3,"E":0.0142},{"p":"i","b":3,"k":3.46,"E":0.0144},
{"p":"i","b":4,"k":0,"E":0.0266},{"p":"i","b":4,"k":0.15,"E":0.0268},{"p":"i","b":4,"k":0.3,"E":0.027},{"p":"i","b":4,"k":0.45,"E":0.0272},{"p":"i","b":4,"k":0.577,"E":0.0278},{"p":"i","b":4,"k":0.74,"E":0.0275},{"p":"i","b":4,"k":0.91,"E":0.0268},{"p":"i","b":4,"k":1.05,"E":0.0266},{"p":"i","b":4,"k":1.2,"E":0.0265},{"p":"i","b":4,"k":1.35,"E":0.0264},{"p":"i","b":4,"k":1.47,"E":0.0263},{"p":"i","b":4,"k":1.577,"E":0.0263},{"p":"i","b":4,"k":1.73,"E":0.0245},{"p":"i","b":4,"k":1.883,"E":0.0229},{"p":"i","b":4,"k":2.05,"E":0.0275},{"p":"i","b":4,"k":2.2,"E":0.0292},{"p":"i","b":4,"k":2.33,"E":0.0294},{"p":"i","b":4,"k":2.46,"E":0.0296},{"p":"i","b":4,"k":2.63,"E":0.0296},{"p":"i","b":4,"k":2.793,"E":0.0296},{"p":"i","b":4,"k":2.95,"E":0.0275},{"p":"i","b":4,"k":3.125,"E":0.025},{"p":"i","b":4,"k":3.3,"E":0.0235},{"p":"i","b":4,"k":3.46,"E":0.0229},
{"p":"i","b":5,"k":0,"E":0.0266},{"p":"i","b":5,"k":0.15,"E":0.0262},{"p":"i","b":5,"k":0.3,"E":0.0258},{"p":"i","b":5,"k":0.45,"E":0.0256},{"p":"i","b":5,"k":0.577,"E":0.0255},{"p":"i","b":5,"k":0.74,"E":0.025},{"p":"i","b":5,"k":0.91,"E":0.0241},{"p":"i","b":5,"k":1.05,"E":0.022},{"p":"i","b":5,"k":1.2,"E":0.019},{"p":"i","b":5,"k":1.35,"E":0.017},{"p":"i","b":5,"k":1.47,"E":0.0158},{"p":"i","b":5,"k":1.577,"E":0.0151},{"p":"i","b":5,"k":1.73,"E":0.0145},{"p":"i","b":5,"k":1.883,"E":0.0138},{"p":"i","b":5,"k":2.05,"E":0.017},{"p":"i","b":5,"k":2.2,"E":0.02},{"p":"i","b":5,"k":2.33,"E":0.0215},{"p":"i","b":5,"k":2.46,"E":0.0222},{"p":"i","b":5,"k":2.63,"E":0.0265},{"p":"i","b":5,"k":2.793,"E":0.0296},{"p":"i","b":5,"k":2.95,"E":0.0275},{"p":"i","b":5,"k":3.125,"E":0.025},{"p":"i","b":5,"k":3.3,"E":0.0235},{"p":"i","b":5,"k":3.46,"E":0.0229},
{"p":"i","b":6,"k":0,"E":0.0187},{"p":"i","b":6,"k":0.15,"E":0.0187},{"p":"i","b":6,"k":0.3,"E":0.0186},{"p":"i","b":6,"k":0.45,"E":0.0185},{"p":"i","b":6,"k":0.577,"E":0.0187},{"p":"i","b":6,"k":0.74,"E":0.0205},{"p":"i","b":6,"k":0.91,"E":0.0229},{"p":"i","b":6,"k":1.05,"E":0.0245},{"p":"i","b":6,"k":1.2,"E":0.0258},{"p":"i","b":6,"k":1.35,"E":0.0262},{"p":"i","b":6,"k":1.47,"E":0.0263},{"p":"i","b":6,"k":1.577,"E":0.0263},{"p":"i","b":6,"k":1.73,"E":0.0245},{"p":"i","b":6,"k":1.883,"E":0.0229},{"p":"i","b":6,"k":2.05,"E":0.0275},{"p":"i","b":6,"k":2.2,"E":0.0292},{"p":"i","b":6,"k":2.33,"E":0.0294},{"p":"i","b":6,"k":2.46,"E":0.0296},{"p":"i","b":6,"k":2.63,"E":0.0296},{"p":"i","b":6,"k":2.793,"E":0.0296},{"p":"i","b":6,"k":2.95,"E":0.0275},{"p":"i","b":6,"k":3.125,"E":0.025},{"p":"i","b":6,"k":3.3,"E":0.0235},{"p":"i","b":6,"k":3.46,"E":0.0229}
],
"vdos":[
{"p":"f","s":"g","E":-0.005,"x":0.06},{"p":"f","s":"g","E":0,"x":0.045},{"p":"f","s":"g","E":0.0061,"x":0.037},{"p":"f","s":"g","E":0.0087,"x":0.068},{"p":"f","s":"g","E":0.0123,"x":0.135},{"p":"f","s":"g","E":0.0166,"x":0.202},{"p":"f","s":"g","E":0.0189,"x":0.291},{"p":"f","s":"g","E":0.0203,"x":0.426},{"p":"f","s":"g","E":0.0218,"x":0.336},{"p":"f","s":"g","E":0.023,"x":0.224},{"p":"f","s":"g","E":0.0254,"x":0.112},{"p":"f","s":"g","E":0.0277,"x":0.058},{"p":"f","s":"g","E":0.0301,"x":0.036},{"p":"f","s":"g","E":0.0313,"x":0.03},{"p":"f","s":"g","E":0.033,"x":0.01},
{"p":"f","s":"b","E":0,"x":0.02},{"p":"f","s":"b","E":0.0039,"x":0.036},{"p":"f","s":"b","E":0.0072,"x":0.1},{"p":"f","s":"b","E":0.0098,"x":0.18},{"p":"f","s":"b","E":0.0118,"x":0.224},{"p":"f","s":"b","E":0.0166,"x":0.29},{"p":"f","s":"b","E":0.0201,"x":0.36},{"p":"f","s":"b","E":0.021,"x":0.6},{"p":"f","s":"b","E":0.0216,"x":0.672},{"p":"f","s":"b","E":0.0225,"x":0.5},{"p":"f","s":"b","E":0.0238,"x":0.3},{"p":"f","s":"b","E":0.026,"x":0.058},{"p":"f","s":"b","E":0.0266,"x":0.02},
{"p":"f","s":"r","E":0.006,"x":0.03},{"p":"f","s":"r","E":0.007,"x":0.045},{"p":"f","s":"r","E":0.0106,"x":0.09},{"p":"f","s":"r","E":0.0139,"x":0.336},{"p":"f","s":"r","E":0.0159,"x":0.605},{"p":"f","s":"r","E":0.0185,"x":0.927},{"p":"f","s":"r","E":0.0201,"x":0.695},{"p":"f","s":"r","E":0.0209,"x":0.426},{"p":"f","s":"r","E":0.0216,"x":0.157},{"p":"f","s":"r","E":0.022,"x":0.045},{"p":"f","s":"r","E":0.0225,"x":0.02},
{"p":"j","s":"b","E":-0.005,"x":0.03},{"p":"j","s":"b","E":0.0004,"x":0.032},{"p":"j","s":"b","E":0.0034,"x":0.045},{"p":"j","s":"b","E":0.0077,"x":0.101},{"p":"j","s":"b","E":0.0105,"x":0.238},{"p":"j","s":"b","E":0.0119,"x":0.443},{"p":"j","s":"b","E":0.0131,"x":0.489},{"p":"j","s":"b","E":0.0149,"x":0.466},{"p":"j","s":"b","E":0.0161,"x":0.397},{"p":"j","s":"b","E":0.0174,"x":0.42},{"p":"j","s":"b","E":0.0192,"x":0.557},{"p":"j","s":"b","E":0.0214,"x":0.489},{"p":"j","s":"b","E":0.0228,"x":0.511},{"p":"j","s":"b","E":0.0243,"x":0.671},{"p":"j","s":"b","E":0.0265,"x":0.466},{"p":"j","s":"b","E":0.0289,"x":0.329},{"p":"j","s":"b","E":0.0305,"x":0.17},{"p":"j","s":"b","E":0.032,"x":0.032},
{"p":"j","s":"g","E":-0.005,"x":0.03},{"p":"j","s":"g","E":0.0004,"x":0.032},{"p":"j","s":"g","E":0.0034,"x":0.045},{"p":"j","s":"g","E":0.0077,"x":0.101},{"p":"j","s":"g","E":0.0105,"x":0.238},{"p":"j","s":"g","E":0.0119,"x":0.443},{"p":"j","s":"g","E":0.0131,"x":0.489},{"p":"j","s":"g","E":0.0149,"x":0.466},{"p":"j","s":"g","E":0.0161,"x":0.397},{"p":"j","s":"g","E":0.0174,"x":0.42},{"p":"j","s":"g","E":0.0192,"x":0.557},{"p":"j","s":"g","E":0.0214,"x":0.489},{"p":"j","s":"g","E":0.0228,"x":0.511},{"p":"j","s":"g","E":0.0243,"x":0.671},{"p":"j","s":"g","E":0.0265,"x":0.466},{"p":"j","s":"g","E":0.0289,"x":0.329},{"p":"j","s":"g","E":0.0305,"x":0.17},{"p":"j","s":"g","E":0.032,"x":0.032},
{"p":"j","s":"r","E":0.007,"x":0.03},{"p":"j","s":"r","E":0.0095,"x":0.035},{"p":"j","s":"r","E":0.0125,"x":0.055},{"p":"j","s":"r","E":0.0143,"x":0.146},{"p":"j","s":"r","E":0.0161,"x":0.28},{"p":"j","s":"r","E":0.0179,"x":0.42},{"p":"j","s":"r","E":0.0204,"x":0.51},{"p":"j","s":"r","E":0.0228,"x":0.6},{"p":"j","s":"r","E":0.0252,"x":0.69},{"p":"j","s":"r","E":0.027,"x":0.79},{"p":"j","s":"r","E":0.0295,"x":0.557},{"p":"j","s":"r","E":0.0307,"x":0.33},{"p":"j","s":"r","E":0.032,"x":0.078},{"p":"j","s":"r","E":0.0325,"x":0.03}
]
},
"concat":[
{"width":219,"height":125,"resolve":{"axis":{"x":"independent","y":"independent"}},"layer":[
 {"data":{"values":[{}]},"mark":{"type":"rule","strokeDash":[6,4],"strokeWidth":1.6,"color":"#333333"},"encoding":{"y":{"datum":0,"type":"quantitative","axis":{"orient":"right","values":[0,0.5,1],"labels":false,"title":null,"tickSize":-5}}}},
 {"data":{"name":"conv"},"transform":[{"filter":"datum.p=='a'&&datum.s=='C, free'"}],"mark":{"type":"line","strokeWidth":2.2,"clip":true},"encoding":{
  "x":{"field":"f","type":"quantitative","scale":{"type":"log","domain":[0.0000093,1],"reverse":true,"nice":false},"axis":{"values":[1,0.01,0.0001],"labelExpr":"datum.value>0.5?'10⁰':datum.value>0.005?'10⁻²':'10⁻⁴'","tickSize":-5,"labelPadding":11,"labelOverlap":false,"title":null}},
  "y":{"field":"d","type":"quantitative","scale":{"domain":[-0.1,1],"nice":false,"zero":false},"axis":{"values":[0,0.5,1],"format":".1f","title":["BCC","|Δa| [Å]"],"titleLineHeight":23,"tickSize":5,"labelPadding":3,"titlePadding":8}},
  "color":{"field":"s","type":"nominal","scale":{"domain":["C, free","NC, free","C, constr."],"range":["#1f77b4","#d62728","#2ca02c"]},"legend":null},
  "detail":{"field":"l","type":"nominal"}}},
 {"data":{"name":"conv"},"transform":[{"filter":"datum.p=='a'&&datum.s=='NC, free'"}],"mark":{"type":"line","strokeWidth":2.2,"clip":true},"encoding":{"x":{"field":"f","type":"quantitative","axis":null},"y":{"field":"d","type":"quantitative","axis":null},"color":{"field":"s","type":"nominal","legend":null},"detail":{"field":"l","type":"nominal"}}},
 {"data":{"name":"conv"},"transform":[{"filter":"datum.p=='a'&&datum.s=='C, constr.'"}],"mark":{"type":"line","strokeWidth":2.6,"clip":true},"encoding":{"x":{"field":"f","type":"quantitative","axis":null},"y":{"field":"d","type":"quantitative","axis":null},"color":{"field":"s","type":"nominal","legend":null},"detail":{"field":"l","type":"nominal"}}},
 {"data":{"values":[{}]},"mark":{"type":"text","text":"a","align":"left","baseline":"middle","fontSize":15.5},"encoding":{"x":{"datum":0.77,"type":"quantitative","axis":{"orient":"top","values":[1,0.01,0.0001],"labels":false,"title":null,"tickSize":-5}},"y":{"datum":0.91,"type":"quantitative","axis":null}}}
]},
{"width":40,"height":125,"view":{"stroke":null},"data":{"values":[{}]},"mark":{"type":"point","opacity":0}},
{"width":169,"height":125,"resolve":{"axis":{"y":"independent"}},"layer":[
 {"data":{"name":"bcc"},"transform":[{"filter":"datum.k>0.01&&datum.k<4.1"}],"mark":{"type":"rule","color":"#8a8a8a","strokeWidth":2.5},"encoding":{"x":{"field":"k","type":"quantitative"}}},
 {"data":{"values":[{}]},"mark":{"type":"rule","strokeDash":[2,4],"strokeWidth":2,"color":"black"},"encoding":{"y":{"datum":0,"type":"quantitative","axis":{"orient":"right","values":[0,0.02,0.04],"labels":false,"title":null,"tickSize":-6}}}},
 {"data":{"name":"disp"},"transform":[{"filter":"datum.p=='c'"}],"mark":{"type":"line","clip":true,"interpolate":"monotone","strokeWidth":1.7,"color":"#2ca02c"},"encoding":{
  "x":{"field":"k","type":"quantitative","scale":{"domain":[0,4.146],"nice":false,"zero":false},"axis":{"labels":false,"ticks":false,"tickSize":0,"title":null}},
  "y":{"field":"E","type":"quantitative","scale":{"domain":[-0.005,0.04],"nice":false,"zero":false},"axis":{"values":[0,0.02,0.04],"format":".2f","title":"Energy (eV)","tickSize":5,"labelPadding":2,"titlePadding":8}},
  "detail":{"field":"b","type":"nominal"}}},
 {"data":{"values":[{}]},"mark":{"type":"rect","fill":"white","stroke":"black","strokeWidth":1},"encoding":{"x":{"datum":2.249,"type":"quantitative"},"x2":{"datum":4.006},"y":{"datum":0.0382,"type":"quantitative","axis":null},"y2":{"datum":0.0311}}},
 {"data":{"values":[{}]},"mark":{"type":"text","text":"C, constr.","align":"right","baseline":"middle","fontSize":15.3},"encoding":{"x":{"datum":3.92,"type":"quantitative"},"y":{"datum":0.0347,"type":"quantitative","axis":null}}},
 {"data":{"values":[{}]},"mark":{"type":"text","text":"c","align":"left","baseline":"middle","fontSize":15.5},"encoding":{"x":{"datum":0.11,"type":"quantitative"},"y":{"datum":0.0356,"type":"quantitative","axis":null}}},
 {"data":{"name":"bcc"},"mark":{"type":"text","fontSize":17.5,"baseline":"middle","align":"center"},"encoding":{"x":{"field":"k","type":"quantitative"},"y":{"datum":-0.0105,"type":"quantitative","axis":null},"text":{"field":"n","type":"nominal"}}}
]},
{"width":168,"height":125,"resolve":{"axis":{"y":"independent"}},"layer":[
 {"data":{"name":"bcc"},"transform":[{"filter":"datum.k>0.01&&datum.k<4.1"}],"mark":{"type":"rule","color":"#8a8a8a","strokeWidth":2.5},"encoding":{"x":{"field":"k","type":"quantitative"}}},
 {"data":{"values":[{}]},"mark":{"type":"rule","strokeDash":[2,4],"strokeWidth":2,"color":"black"},"encoding":{"y":{"datum":0,"type":"quantitative","axis":{"orient":"right","values":[0,0.02,0.04],"labels":false,"title":null,"tickSize":-6}}}},
 {"data":{"name":"disp"},"transform":[{"filter":"datum.p=='d'"}],"mark":{"type":"line","clip":true,"interpolate":"monotone","strokeWidth":1.7,"color":"#1f77b4"},"encoding":{
  "x":{"field":"k","type":"quantitative","scale":{"domain":[0,4.146],"nice":false,"zero":false},"axis":{"labels":false,"ticks":false,"tickSize":0,"title":"BCC paths","titlePadding":24}},
  "y":{"field":"E","type":"quantitative","scale":{"domain":[-0.005,0.04],"nice":false,"zero":false},"axis":{"values":[0,0.02,0.04],"labels":false,"title":null,"tickSize":-6}},
  "detail":{"field":"b","type":"nominal"}}},
 {"data":{"values":[{}]},"mark":{"type":"rect","fill":"white","stroke":"black","strokeWidth":1},"encoding":{"x":{"datum":2.697,"type":"quantitative"},"x2":{"datum":3.99},"y":{"datum":0.0382,"type":"quantitative","axis":null},"y2":{"datum":0.0311}}},
 {"data":{"values":[{}]},"mark":{"type":"text","text":"C, free","align":"right","baseline":"middle","fontSize":15.3},"encoding":{"x":{"datum":3.9,"type":"quantitative"},"y":{"datum":0.0347,"type":"quantitative","axis":null}}},
 {"data":{"values":[{}]},"mark":{"type":"text","text":"d","align":"left","baseline":"middle","fontSize":15.5},"encoding":{"x":{"datum":0.11,"type":"quantitative"},"y":{"datum":0.0356,"type":"quantitative","axis":null}}},
 {"data":{"name":"bcc"},"mark":{"type":"text","fontSize":17.5,"baseline":"middle","align":"center"},"encoding":{"x":{"field":"k","type":"quantitative"},"y":{"datum":-0.0105,"type":"quantitative","axis":null},"text":{"field":"n","type":"nominal"}}}
]},
{"width":168,"height":125,"resolve":{"axis":{"y":"independent"}},"layer":[
 {"data":{"name":"bcc"},"transform":[{"filter":"datum.k>0.01&&datum.k<4.1"}],"mark":{"type":"rule","color":"#8a8a8a","strokeWidth":2.5},"encoding":{"x":{"field":"k","type":"quantitative"}}},
 {"data":{"values":[{}]},"mark":{"type":"rule","strokeDash":[2,4],"strokeWidth":2,"color":"black"},"encoding":{"y":{"datum":0,"type":"quantitative","axis":{"orient":"right","values":[0,0.02,0.04],"labels":false,"title":null,"tickSize":-6}}}},
 {"data":{"name":"disp"},"transform":[{"filter":"datum.p=='e'"}],"mark":{"type":"line","clip":true,"interpolate":"monotone","strokeWidth":1.7,"color":"#d62728"},"encoding":{
  "x":{"field":"k","type":"quantitative","scale":{"domain":[0,4.146],"nice":false,"zero":false},"axis":{"labels":false,"ticks":false,"tickSize":0,"title":null}},
  "y":{"field":"E","type":"quantitative","scale":{"domain":[-0.005,0.04],"nice":false,"zero":false},"axis":{"values":[0,0.02,0.04],"labels":false,"title":null,"tickSize":-6}},
  "detail":{"field":"b","type":"nominal"}}},
 {"data":{"values":[{}]},"mark":{"type":"rect","fill":"white","stroke":"black","strokeWidth":1},"encoding":{"x":{"datum":2.426,"type":"quantitative"},"x2":{"datum":4.03},"y":{"datum":0.0382,"type":"quantitative","axis":null},"y2":{"datum":0.0311}}},
 {"data":{"values":[{}]},"mark":{"type":"text","text":"NC, free","align":"right","baseline":"middle","fontSize":15.3},"encoding":{"x":{"datum":3.95,"type":"quantitative"},"y":{"datum":0.0347,"type":"quantitative","axis":null}}},
 {"data":{"values":[{}]},"mark":{"type":"text","text":"e","align":"left","baseline":"middle","fontSize":15.5},"encoding":{"x":{"datum":0.11,"type":"quantitative"},"y":{"datum":0.0356,"type":"quantitative","axis":null}}},
 {"data":{"name":"bcc"},"mark":{"type":"text","fontSize":17.5,"baseline":"middle","align":"center"},"encoding":{"x":{"field":"k","type":"quantitative"},"y":{"datum":-0.0105,"type":"quantitative","axis":null},"text":{"field":"n","type":"nominal"}}}
]},
{"width":72,"height":125,"resolve":{"axis":{"y":"independent"}},"layer":[
 {"data":{"values":[{}]},"mark":{"type":"rule","strokeDash":[2,4],"strokeWidth":2,"color":"black"},"encoding":{"y":{"datum":0,"type":"quantitative","axis":{"orient":"right","values":[0,0.02,0.04],"labels":false,"title":null,"tickSize":-6}}}},
 {"data":{"name":"vdos"},"transform":[{"filter":"datum.p=='f'&&datum.s=='g'"}],"mark":{"type":"line","clip":true,"interpolate":"cardinal","strokeWidth":2,"color":"#2ca02c"},"encoding":{
  "x":{"field":"x","type":"quantitative","scale":{"domain":[0,1],"nice":false,"zero":false},"axis":{"labels":false,"ticks":false,"tickSize":0,"title":"VDOS","titlePadding":6}},
  "y":{"field":"E","type":"quantitative","scale":{"domain":[-0.005,0.04],"nice":false,"zero":false},"axis":{"values":[0,0.02,0.04],"labels":false,"title":null,"tickSize":-6}},
  "order":{"field":"E","type":"quantitative"}}},
 {"data":{"name":"vdos"},"transform":[{"filter":"datum.p=='f'&&datum.s=='b'"}],"mark":{"type":"line","clip":true,"interpolate":"cardinal","strokeWidth":2,"strokeDash":[6,3],"color":"#1f77b4"},"encoding":{"x":{"field":"x","type":"quantitative"},"y":{"field":"E","type":"quantitative","axis":null},"order":{"field":"E","type":"quantitative"}}},
 {"data":{"name":"vdos"},"transform":[{"filter":"datum.p=='f'&&datum.s=='r'"}],"mark":{"type":"line","clip":true,"interpolate":"cardinal","strokeWidth":2.5,"strokeDash":[2,4],"color":"#d62728"},"encoding":{"x":{"field":"x","type":"quantitative"},"y":{"field":"E","type":"quantitative","axis":null},"order":{"field":"E","type":"quantitative"}}},
 {"data":{"values":[{}]},"mark":{"type":"text","text":"f","align":"left","baseline":"middle","fontSize":15.5},"encoding":{"x":{"datum":0.03,"type":"quantitative"},"y":{"datum":0.0356,"type":"quantitative","axis":null}}}
]},
{"width":219,"height":125,"resolve":{"axis":{"x":"independent","y":"independent"}},"layer":[
 {"data":{"values":[{}]},"mark":{"type":"rule","strokeDash":[6,4],"strokeWidth":1.6,"color":"#333333"},"encoding":{"y":{"datum":0,"type":"quantitative","axis":{"orient":"right","values":[0,0.5,1],"labels":false,"title":null,"tickSize":-5}}}},
 {"data":{"name":"conv"},"transform":[{"filter":"datum.p=='b'&&datum.s=='C, free'"}],"mark":{"type":"line","strokeWidth":2.2,"clip":true},"encoding":{
  "x":{"field":"f","type":"quantitative","scale":{"type":"log","domain":[0.0000093,1],"reverse":true,"nice":false},"axis":{"values":[1,0.01,0.0001],"labelExpr":"datum.value>0.5?'10⁰':datum.value>0.005?'10⁻²':'10⁻⁴'","tickSize":-5,"labelPadding":11,"labelOverlap":false,"title":"|fₘₐₓ| [eV/Å]","titlePadding":12}},
  "y":{"field":"d","type":"quantitative","scale":{"domain":[-0.1,1],"nice":false,"zero":false},"axis":{"values":[0,0.5,1],"format":".1f","title":["HCP","|Δa| [Å]"],"titleLineHeight":23,"tickSize":5,"labelPadding":3,"titlePadding":8}},
  "color":{"field":"s","type":"nominal","scale":{"domain":["C, free","NC, free","C, constr."],"range":["#1f77b4","#d62728","#2ca02c"]},"legend":{"orient":"none","legendX":87,"legendY":11,"title":null,"symbolType":"M-1,0H3","symbolSize":342,"symbolStrokeWidth":4,"labelFontSize":16.4,"labelFont":"Liberation Sans","labelColor":"black","padding":0,"rowPadding":5.5,"labelOffset":22.5}},
  "detail":{"field":"l","type":"nominal"}}},
 {"data":{"name":"conv"},"transform":[{"filter":"datum.p=='b'&&datum.s=='NC, free'"}],"mark":{"type":"line","strokeWidth":2.2,"clip":true},"encoding":{"x":{"field":"f","type":"quantitative","axis":null},"y":{"field":"d","type":"quantitative","axis":null},"color":{"field":"s","type":"nominal"},"detail":{"field":"l","type":"nominal"}}},
 {"data":{"name":"conv"},"transform":[{"filter":"datum.p=='b'&&datum.s=='C, constr.'"}],"mark":{"type":"line","strokeWidth":2.6,"clip":true},"encoding":{"x":{"field":"f","type":"quantitative","axis":null},"y":{"field":"d","type":"quantitative","axis":null},"color":{"field":"s","type":"nominal"},"detail":{"field":"l","type":"nominal"}}},
 {"data":{"values":[{}]},"mark":{"type":"text","text":"b","align":"left","baseline":"middle","fontSize":15.5},"encoding":{"x":{"datum":0.77,"type":"quantitative","axis":{"orient":"top","values":[1,0.01,0.0001],"labels":false,"title":null,"tickSize":-5}},"y":{"datum":0.91,"type":"quantitative","axis":null}}}
]},
{"width":40,"height":125,"view":{"stroke":null},"data":{"values":[{}]},"mark":{"type":"point","opacity":0}},
{"width":169,"height":125,"resolve":{"axis":{"y":"independent"}},"layer":[
 {"data":{"name":"hcp"},"transform":[{"filter":"datum.k>0.01&&datum.k<3.4"}],"mark":{"type":"rule","color":"#8a8a8a","strokeWidth":2.5},"encoding":{"x":{"field":"k","type":"quantitative"}}},
 {"data":{"values":[{}]},"mark":{"type":"rule","strokeDash":[2,4],"strokeWidth":2,"color":"black"},"encoding":{"y":{"datum":0,"type":"quantitative","axis":{"orient":"right","values":[0,0.02,0.04],"labels":false,"title":null,"tickSize":-6}}}},
 {"data":{"name":"disp"},"transform":[{"filter":"datum.p=='g'"}],"mark":{"type":"line","clip":true,"interpolate":"monotone","strokeWidth":1.7,"color":"#2ca02c"},"encoding":{
  "x":{"field":"k","type":"quantitative","scale":{"domain":[0,3.46],"nice":false,"zero":false},"axis":{"labels":false,"ticks":false,"tickSize":0,"title":null}},
  "y":{"field":"E","type":"quantitative","scale":{"domain":[-0.005,0.04],"nice":false,"zero":false},"axis":{"values":[0,0.02,0.04],"format":".2f","title":"Energy (eV)","tickSize":5,"labelPadding":2,"titlePadding":8}},
  "detail":{"field":"b","type":"nominal"}}},
 {"data":{"values":[{}]},"mark":{"type":"rect","fill":"white","stroke":"black","strokeWidth":1},"encoding":{"x":{"datum":1.863,"type":"quantitative"},"x2":{"datum":3.343},"y":{"datum":0.0387,"type":"quantitative","axis":null},"y2":{"datum":0.0317}}},
 {"data":{"values":[{}]},"mark":{"type":"text","text":"C, constr.","align":"right","baseline":"middle","fontSize":15.3},"encoding":{"x":{"datum":3.275,"type":"quantitative"},"y":{"datum":0.0352,"type":"quantitative","axis":null}}},
 {"data":{"values":[{}]},"mark":{"type":"text","text":"g","align":"left","baseline":"middle","fontSize":15.5},"encoding":{"x":{"datum":0.09,"type":"quantitative"},"y":{"datum":0.0357,"type":"quantitative","axis":null}}},
 {"data":{"name":"hcp"},"mark":{"type":"text","fontSize":17.5,"baseline":"middle","align":"center"},"encoding":{"x":{"field":"k","type":"quantitative"},"y":{"datum":-0.0101,"type":"quantitative","axis":null},"text":{"field":"n","type":"nominal"}}}
]},
{"width":168,"height":125,"resolve":{"axis":{"y":"independent"}},"layer":[
 {"data":{"name":"hcp"},"transform":[{"filter":"datum.k>0.01&&datum.k<3.4"}],"mark":{"type":"rule","color":"#8a8a8a","strokeWidth":2.5},"encoding":{"x":{"field":"k","type":"quantitative"}}},
 {"data":{"values":[{}]},"mark":{"type":"rule","strokeDash":[2,4],"strokeWidth":2,"color":"black"},"encoding":{"y":{"datum":0,"type":"quantitative","axis":{"orient":"right","values":[0,0.02,0.04],"labels":false,"title":null,"tickSize":-6}}}},
 {"data":{"name":"disp"},"transform":[{"filter":"datum.p=='h'"}],"mark":{"type":"line","clip":true,"interpolate":"monotone","strokeWidth":1.7,"color":"#1f77b4"},"encoding":{
  "x":{"field":"k","type":"quantitative","scale":{"domain":[0,3.46],"nice":false,"zero":false},"axis":{"labels":false,"ticks":false,"tickSize":0,"title":"HCP paths","titlePadding":26}},
  "y":{"field":"E","type":"quantitative","scale":{"domain":[-0.005,0.04],"nice":false,"zero":false},"axis":{"values":[0,0.02,0.04],"labels":false,"title":null,"tickSize":-6}},
  "detail":{"field":"b","type":"nominal"}}},
 {"data":{"values":[{}]},"mark":{"type":"rect","fill":"white","stroke":"black","strokeWidth":1},"encoding":{"x":{"datum":2.25,"type":"quantitative"},"x2":{"datum":3.296},"y":{"datum":0.0387,"type":"quantitative","axis":null},"y2":{"datum":0.0317}}},
 {"data":{"values":[{}]},"mark":{"type":"text","text":"C, free","align":"right","baseline":"middle","fontSize":15.3},"encoding":{"x":{"datum":3.23,"type":"quantitative"},"y":{"datum":0.0352,"type":"quantitative","axis":null}}},
 {"data":{"values":[{}]},"mark":{"type":"text","text":"h","align":"left","baseline":"middle","fontSize":15.5},"encoding":{"x":{"datum":0.09,"type":"quantitative"},"y":{"datum":0.0357,"type":"quantitative","axis":null}}},
 {"data":{"name":"hcp"},"mark":{"type":"text","fontSize":17.5,"baseline":"middle","align":"center"},"encoding":{"x":{"field":"k","type":"quantitative"},"y":{"datum":-0.0101,"type":"quantitative","axis":null},"text":{"field":"n","type":"nominal"}}}
]},
{"width":168,"height":125,"resolve":{"axis":{"y":"independent"}},"layer":[
 {"data":{"name":"hcp"},"transform":[{"filter":"datum.k>0.01&&datum.k<3.4"}],"mark":{"type":"rule","color":"#8a8a8a","strokeWidth":2.5},"encoding":{"x":{"field":"k","type":"quantitative"}}},
 {"data":{"values":[{}]},"mark":{"type":"rule","strokeDash":[2,4],"strokeWidth":2,"color":"black"},"encoding":{"y":{"datum":0,"type":"quantitative","axis":{"orient":"right","values":[0,0.02,0.04],"labels":false,"title":null,"tickSize":-6}}}},
 {"data":{"name":"disp"},"transform":[{"filter":"datum.p=='i'"}],"mark":{"type":"line","clip":true,"interpolate":"monotone","strokeWidth":1.7,"color":"#d62728"},"encoding":{
  "x":{"field":"k","type":"quantitative","scale":{"domain":[0,3.46],"nice":false,"zero":false},"axis":{"labels":false,"ticks":false,"tickSize":0,"title":null}},
  "y":{"field":"E","type":"quantitative","scale":{"domain":[-0.005,0.04],"nice":false,"zero":false},"axis":{"values":[0,0.02,0.04],"labels":false,"title":null,"tickSize":-6}},
  "detail":{"field":"b","type":"nominal"}}},
 {"data":{"values":[{}]},"mark":{"type":"rect","fill":"white","stroke":"black","strokeWidth":1},"encoding":{"x":{"datum":2.025,"type":"quantitative"},"x2":{"datum":3.35},"y":{"datum":0.0387,"type":"quantitative","axis":null},"y2":{"datum":0.0317}}},
 {"data":{"values":[{}]},"mark":{"type":"text","text":"NC, free","align":"right","baseline":"middle","fontSize":15.3},"encoding":{"x":{"datum":3.285,"type":"quantitative"},"y":{"datum":0.0352,"type":"quantitative","axis":null}}},
 {"data":{"values":[{}]},"mark":{"type":"text","text":"i","align":"left","baseline":"middle","fontSize":15.5},"encoding":{"x":{"datum":0.09,"type":"quantitative"},"y":{"datum":0.0357,"type":"quantitative","axis":null}}},
 {"data":{"name":"hcp"},"mark":{"type":"text","fontSize":17.5,"baseline":"middle","align":"center"},"encoding":{"x":{"field":"k","type":"quantitative"},"y":{"datum":-0.0101,"type":"quantitative","axis":null},"text":{"field":"n","type":"nominal"}}}
]},
{"width":72,"height":125,"resolve":{"axis":{"y":"independent"}},"layer":[
 {"data":{"values":[{}]},"mark":{"type":"rule","strokeDash":[2,4],"strokeWidth":2,"color":"black"},"encoding":{"y":{"datum":0,"type":"quantitative","axis":{"orient":"right","values":[0,0.02,0.04],"labels":false,"title":null,"tickSize":-6}}}},
 {"data":{"name":"vdos"},"transform":[{"filter":"datum.p=='j'&&datum.s=='b'"}],"mark":{"type":"line","clip":true,"interpolate":"cardinal","strokeWidth":2.2,"color":"#1f77b4"},"encoding":{
  "x":{"field":"x","type":"quantitative","scale":{"domain":[0,1],"nice":false,"zero":false},"axis":{"labels":false,"ticks":false,"tickSize":0,"title":"VDOS","titlePadding":6}},
  "y":{"field":"E","type":"quantitative","scale":{"domain":[-0.005,0.04],"nice":false,"zero":false},"axis":{"values":[0,0.02,0.04],"labels":false,"title":null,"tickSize":-6}},
  "order":{"field":"E","type":"quantitative"}}},
 {"data":{"name":"vdos"},"transform":[{"filter":"datum.p=='j'&&datum.s=='g'"}],"mark":{"type":"line","clip":true,"interpolate":"cardinal","strokeWidth":2,"strokeDash":[4,5],"color":"#2ca02c"},"encoding":{"x":{"field":"x","type":"quantitative"},"y":{"field":"E","type":"quantitative","axis":null},"order":{"field":"E","type":"quantitative"}}},
 {"data":{"name":"vdos"},"transform":[{"filter":"datum.p=='j'&&datum.s=='r'"}],"mark":{"type":"line","clip":true,"interpolate":"cardinal","strokeWidth":2.5,"strokeDash":[2,4],"color":"#d62728"},"encoding":{"x":{"field":"x","type":"quantitative"},"y":{"field":"E","type":"quantitative","axis":null},"order":{"field":"E","type":"quantitative"}}},
 {"data":{"values":[{}]},"mark":{"type":"text","text":"j","align":"left","baseline":"middle","fontSize":15.5},"encoding":{"x":{"datum":0.03,"type":"quantitative"},"y":{"datum":0.0357,"type":"quantitative","axis":null}}}
]}
]
}
